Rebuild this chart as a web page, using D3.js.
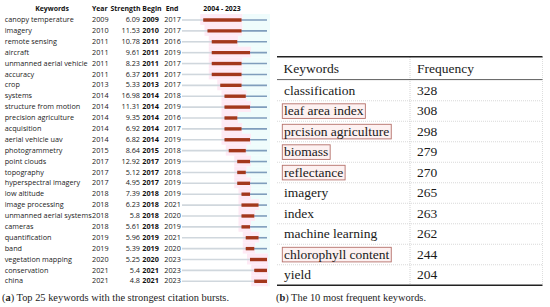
<!DOCTYPE html>
<html><head><meta charset="utf-8">
<script src="https://cdn.jsdelivr.net/npm/d3@7"></script>
<style>html,body{margin:0;padding:0;background:#fff;}svg{display:block;}</style>
</head><body>
<script>
const keywords = ["canopy temperature","imagery","remote sensing","aircraft","unmanned aerial vehicle","accuracy","crop","systems","structure from motion","precision agriculture","acquisition","aerial vehicle uav","photogrammetry","point clouds","topography","hyperspectral imagery","low altitude","image processing","unmanned aerial systems","cameras","quantification","band","vegetation mapping","conservation","china"];
const firstYears = [2009,2010,2011,2011,2011,2011,2013,2014,2014,2014,2014,2014,2015,2017,2017,2017,2018,2018,2018,2018,2019,2019,2020,2021,2021];
const strengths = ["6.09","11.53","10.78","9.61","8.23","6.37","5.33","16.98","11.31","9.35","6.92","6.82","8.64","12.92","5.12","4.95","7.39","6.23","5.8","5.61","5.96","5.39","5.25","5.4","4.8"];
const begins = [2009,2010,2011,2011,2011,2011,2013,2014,2014,2014,2014,2014,2015,2017,2017,2017,2018,2018,2018,2018,2019,2019,2020,2021,2021];
const ends = [2017,2017,2016,2019,2017,2017,2017,2018,2019,2016,2017,2019,2018,2019,2018,2019,2019,2021,2020,2019,2021,2020,2023,2023,2023];
const yearRange = [2004, 2023];

const freqKeywords = ["classification","leaf area index","prcision agriculture","biomass","reflectance","imagery","index","machine learning","chlorophyll content","yield"];
const frequencies = [328,308,298,279,270,265,263,262,244,204];
const highlighted = [false,true,true,true,true,false,false,false,true,false];

const W = 550, H = 307;
const svg = d3.select("body").append("svg").attr("width", W).attr("height", H);
svg.append("rect").attr("width", W).attr("height", H).attr("fill", "#fff");

// ---------- Left panel: citation bursts ----------
const sans = "'Open Sans', 'Noto Sans', sans-serif";
const fs = 7.25;
const y = d3.scalePoint().domain(d3.range(keywords.length)).range([19.5, 280.8]);
const rowH = y.step();
const x = d3.scaleLinear().domain([yearRange[0], yearRange[1] + 1]).range([182, 267]);

const left = svg.append("g");
// header
const hdr = left.append("g").attr("font-family", sans).attr("font-size", 6.9).attr("font-weight", "bold").attr("fill", "#111");
hdr.append("text").attr("x", 52).attr("y", 10.5).attr("text-anchor", "middle").text("Keywords");
hdr.append("text").attr("x", 92).attr("y", 10.5).text("Year");
hdr.append("text").attr("x", 110.5).attr("y", 10.5).text("Strength");
hdr.append("text").attr("x", 142.3).attr("y", 10.5).text("Begin");
hdr.append("text").attr("x", 165.7).attr("y", 10.5).text("End");
hdr.append("text").attr("x", 222).attr("y", 10.5).attr("text-anchor", "middle").text(`${yearRange[0]} - ${yearRange[1]}`);

const rows = left.selectAll("g.row").data(keywords).join("g").attr("class", "row")
  .attr("transform", (d, i) => `translate(0,${y(i)})`);

// background highlight bands
rows.append("rect").attr("x", (d, i) => x(begins[i]) - 3).attr("y", -rowH / 2)
  .attr("width", (d, i) => x(ends[i] + 1) - x(begins[i]) + 4).attr("height", rowH)
  .attr("fill", "#feeaf5");
rows.append("rect").attr("x", (d, i) => x(ends[i] + 1) + 1).attr("y", -rowH / 2)
  .attr("width", (d, i) => Math.max(0, 270 - x(ends[i] + 1) - 1)).attr("height", rowH)
  .attr("fill", "#effcfc");

// lines
rows.append("line").attr("x1", x(yearRange[0])).attr("x2", (d, i) => x(firstYears[i]))
  .attr("stroke", "#d0d7dd").attr("stroke-width", 1.6).attr("y1", 0.5).attr("y2", 0.5);
rows.append("line").attr("x1", (d, i) => x(firstYears[i])).attr("x2", x(yearRange[1] + 1))
  .attr("stroke", "#7f9dbc").attr("stroke-width", 1.6).attr("y1", 0.5).attr("y2", 0.5);
rows.append("line").attr("x1", (d, i) => x(begins[i])).attr("x2", (d, i) => x(ends[i] + 1))
  .attr("stroke", "#a3381c").attr("stroke-width", 3.4).attr("y1", 0.5).attr("y2", 0.5);

const t = rows.append("g").attr("font-family", sans).attr("font-size", fs).attr("fill", "#222");
t.append("text").attr("x", 4.7).attr("y", 2.6).text(d => d);
t.append("text").attr("x", 92).attr("y", 2.6).text((d, i) => firstYears[i]);
t.append("text").attr("x", 140).attr("y", 2.6).attr("text-anchor", "end").text((d, i) => strengths[i]);
t.append("text").attr("x", 142.3).attr("y", 2.6).attr("font-weight", "bold").attr("fill", "#111").text((d, i) => begins[i]);
t.append("text").attr("x", 164.3).attr("y", 2.6).text((d, i) => ends[i]);

// caption (a)
const serif = "'Liberation Serif', 'Times New Roman', serif";
const capA = svg.append("text").attr("x", 2).attr("y", 300.5).attr("font-family", serif).attr("font-size", 9.8).attr("fill", "#222")
  .attr("textLength", 227).attr("lengthAdjust", "spacingAndGlyphs");
capA.append("tspan").text("(");
capA.append("tspan").attr("font-weight", "bold").text("a");
capA.append("tspan").text(") Top 25 keywords with the strongest citation bursts.");

// ---------- Right panel: frequency table ----------
const tx0 = 277, tx1 = 542.5, colX = 410;
const ty = d3.scalePoint().domain(d3.range(freqKeywords.length)).range([90.5, 275]);
const step = ty.step();
const right = svg.append("g");
// dotted grid
right.append("line").attr("x1", colX).attr("x2", colX).attr("y1", 57).attr("y2", 285)
  .attr("stroke", "#c8c8c8").attr("stroke-width", 0.8).attr("stroke-dasharray", "1,1");
right.append("line").attr("x1", tx1).attr("x2", tx1).attr("y1", 57).attr("y2", 285)
  .attr("stroke", "#d6d6d6").attr("stroke-width", 0.8).attr("stroke-dasharray", "1,1");
right.selectAll("line.sep").data(d3.range(1, freqKeywords.length)).join("line").attr("class", "sep")
  .attr("x1", tx0).attr("x2", tx1).attr("y1", i => ty(i) - step / 2).attr("y2", i => ty(i) - step / 2)
  .attr("stroke", "#cfcfcf").attr("stroke-width", 0.8).attr("stroke-dasharray", "1,1");
// rules
right.append("line").attr("x1", tx0).attr("x2", tx1).attr("y1", 56.8).attr("y2", 56.8).attr("stroke", "#222").attr("stroke-width", 1.6);
right.append("line").attr("x1", tx0).attr("x2", tx1).attr("y1", 79.6).attr("y2", 79.6).attr("stroke", "#333").attr("stroke-width", 0.8);
right.append("line").attr("x1", tx0).attr("x2", tx1).attr("y1", 285.2).attr("y2", 285.2).attr("stroke", "#222").attr("stroke-width", 1.6);

const tfs = 13.5;
right.append("text").attr("x", 283.5).attr("y", 72.8).attr("font-family", serif).attr("font-size", tfs).attr("fill", "#1a1a1a").text("Keywords");
right.append("text").attr("x", 417).attr("y", 72.8).attr("font-family", serif).attr("font-size", tfs).attr("fill", "#1a1a1a").text("Frequency");

const trows = right.selectAll("g.trow").data(freqKeywords).join("g").attr("class", "trow")
  .attr("transform", (d, i) => `translate(0,${ty(i)})`);
trows.each(function(d, i) {
  const g = d3.select(this);
  const txt = g.append("text").attr("x", 284).attr("y", 4.3).attr("font-family", serif).attr("font-size", tfs).attr("fill", "#1a1a1a").text(d);
  if (highlighted[i]) {
    const w = txt.node().getComputedTextLength();
    g.insert("rect", "text").attr("x", 282.3).attr("y", -7.2).attr("width", w + 3.6).attr("height", 14.6)
      .attr("fill", "#fdf1f1").attr("stroke", "#b5706a").attr("stroke-width", 0.9);
  }
  g.append("text").attr("x", 417).attr("y", 4.3).attr("font-family", serif).attr("font-size", tfs).attr("fill", "#1a1a1a").text(frequencies[i]);
});

const capB = svg.append("text").attr("x", 276).attr("y", 300.5).attr("font-family", serif).attr("font-size", 9.8).attr("fill", "#222")
  .attr("textLength", 150).attr("lengthAdjust", "spacingAndGlyphs");
capB.append("tspan").text("(");
capB.append("tspan").attr("font-weight", "bold").text("b");
capB.append("tspan").text(") The 10 most frequent keywords.");
</script>
</body></html>
